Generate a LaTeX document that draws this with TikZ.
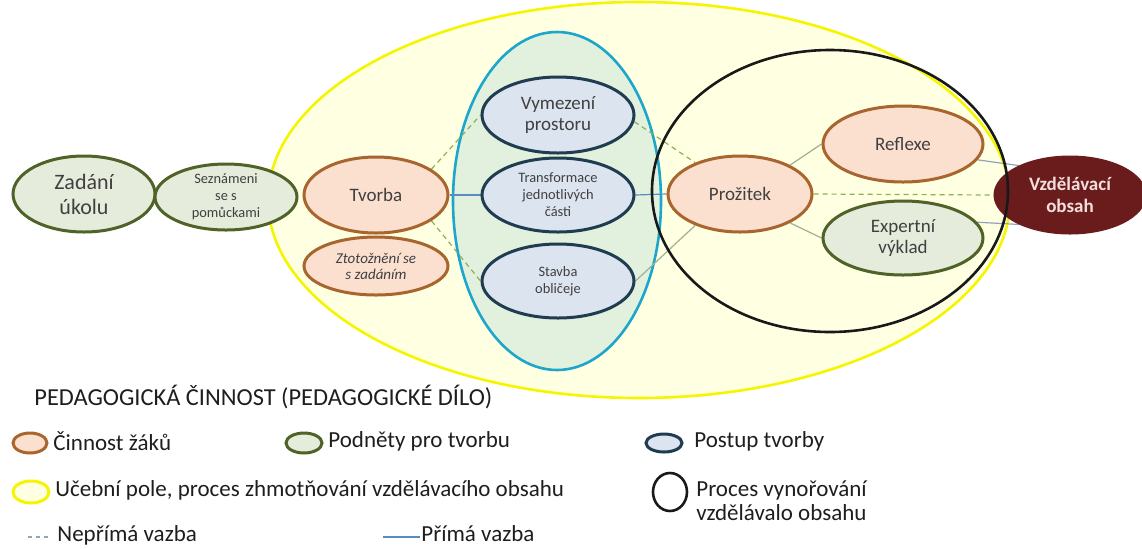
\documentclass[tikz,border=0pt]{standalone}
\usepackage{fontspec}
\setmainfont{Carlito}
\usetikzlibrary{shapes.geometric}
\pgfdeclarelayer{back}
\pgfdeclarelayer{conn}
\pgfsetlayers{back,conn,main}
\definecolor{txt}{HTML}{404040}
\definecolor{legtxt}{HTML}{1E1E1E}
\definecolor{peachF}{HTML}{FBE0D0}
\definecolor{peachD}{HTML}{A8652E}
\definecolor{greenF}{HTML}{E5ECDB}
\definecolor{greenD}{HTML}{4F6228}
\definecolor{blueF}{HTML}{DCE4F0}
\definecolor{blueD}{HTML}{203C50}
\definecolor{yelF}{HTML}{FFFFE2}
\definecolor{yelD}{HTML}{F5F500}
\definecolor{cyanD}{HTML}{1CA6CC}
\definecolor{cyanF}{HTML}{E2F1DD}
\definecolor{maroonF}{HTML}{6A1C1C}
\definecolor{maroonT}{HTML}{F4DEDC}
\definecolor{lnBlue}{HTML}{5B8BC4}
\definecolor{lnDash}{HTML}{8FB054}
\definecolor{lnGray}{HTML}{A3AE95}
\definecolor{lnBG}{HTML}{93A3B8}
\tikzset{
  ov/.style={ellipse, inner sep=0pt, line width=1.5pt, text=txt, align=center},
  act/.style={ov, draw=peachD, fill=peachF},
  stim/.style={ov, draw=greenD, fill=greenF},
  proc/.style={ov, draw=blueD, fill=blueF},
  goal/.style={ov, draw=maroonF, fill=maroonF, text=maroonT},
  fieldov/.style={ellipse, inner sep=0pt, draw=yelD, fill=yelF, line width=1.3pt},
  cyanov/.style={ellipse, inner sep=0pt, draw=cyanD, fill=cyanF, line width=1.3pt},
  emerg/.style={ellipse, inner sep=0pt, draw=black!90, line width=1.3pt},
  fA/.style={font=\fontsize{11}{12.5}\selectfont},
  fB/.style={font=\fontsize{9.5}{10.5}\selectfont},
  fC/.style={font=\fontsize{7.2}{8.5}\selectfont},
  leg/.style={anchor=west, inner sep=0pt, text=legtxt, font=\fontsize{11.5}{12.2}\selectfont, align=left},
  direct/.style={draw=lnBlue, line width=0.6pt},
  indirect/.style={draw=lnDash, line width=0.6pt, dash pattern=on 2.5pt off 2pt},
  plain/.style={draw=lnGray, line width=0.6pt},
  plainb/.style={draw=lnBG, line width=0.6pt},
}
\begin{document}
\begin{tikzpicture}[x=0.5pt, y=-0.5pt]
\useasboundingbox (0,0) rectangle (1142,548);
% big regions
\begin{pgfonlayer}{back}
\node[fieldov, minimum width=371pt, minimum height=198pt] (field) at (639,200) {};
\node[cyanov, minimum width=104pt, minimum height=169pt] (cyanreg) at (557,201) {};
\end{pgfonlayer}
% nodes
\node[stim, fA, minimum width=71pt, minimum height=38pt] (zad) at (84,194) {Zadání\\úkolu};
\node[stim, fC, minimum width=71pt, minimum height=33pt] (sez) at (226,197) {Seznámeni\\se s\\pomůckami};
\node[act, fB, minimum width=72pt, minimum height=38pt] (tv) at (376,195) {Tvorba};
\node[act, font=\fontsize{7.5}{8}\selectfont\itshape, minimum width=72pt, minimum height=29pt] (zt) at (376,266) {Ztotožnění se\\s zadáním};
\node[proc, fB, minimum width=76pt, minimum height=38pt] (vy) at (558,115) {Vymezení\\prostoru};
\node[proc, fC, minimum width=76pt, minimum height=37pt] (tr) at (558,195) {Transformace\\jednotlivých\\části};
\node[proc, fC, minimum width=76pt, minimum height=37pt] (st) at (558,281) {Stavba\\obličeje};
\node[act, fB, minimum width=72pt, minimum height=38pt] (pr) at (740,194) {Prožitek};
\node[act, fB, minimum width=80pt, minimum height=38pt] (re) at (903,144) {Reflexe};
\node[stim, fB, minimum width=80pt, minimum height=37pt] (ex) at (903,238) {Expertní\\výklad};
\node[goal, font=\fontsize{9.5}{11}\selectfont\bfseries, minimum width=75pt, minimum height=38pt] (vz) at (1070,195) {Vzdělávací\\obsah};
\node[emerg, minimum width=178pt, minimum height=141pt] (black) at (830,191) {};
% connectors
\begin{pgfonlayer}{conn}
\draw[direct] (tv.east) -- (tr.west);
\draw[indirect] (tv.25) -- (vy.west);
\draw[indirect] (tv.-25) -- (st.west);
\draw[direct] (tr.east) -- (pr.west);
\draw[indirect] (vy.-5) -- (pr.145);
\draw[plain] (st.east) -- (pr.-145);
\draw[plain] (pr.30) -- (re.west);
\draw[plain] (pr.-30) -- (ex.west);
\draw[indirect] (pr.east) -- (vz.west);
\draw[plainb] (re.-12) -- (vz.150);
\draw[plainb] (ex.12) -- (vz.-150);
\end{pgfonlayer}
% legend
\node[leg, font=\fontsize{12.2}{13}\selectfont] (title) at (34,397) {PEDAGOGICKÁ ČINNOST (PEDAGOGICKÉ DÍLO)};
\node[act, minimum width=17pt, minimum height=10pt] (kA) at (30,443) {};
\node[leg] (tA) at (53,441) {Činnost žáků};
\node[stim, minimum width=18pt, minimum height=10pt] (kB) at (304,443) {};
\node[leg] (tB) at (328,441) {Podněty pro tvorbu};
\node[proc, minimum width=18pt, minimum height=9pt] (kC) at (664,443) {};
\node[leg] (tC) at (694,441) {Postup tvorby};
\node[fieldov, line width=1.5pt, minimum width=18pt, minimum height=11pt] (kD) at (31,492) {};
\node[leg] (tD) at (55,490) {Učební pole, proces zhmotňování vzdělávacího obsahu};
\node[emerg, minimum width=17pt, minimum height=19pt] (kE) at (670,492) {};
\node[leg, anchor=north west] (tE) at (696,480) {Proces vynořování\\vzdělávalo obsahu};
\coordinate (dA) at (28,537);
\coordinate (dB) at (50,537);
\draw[draw=lnBG, line width=0.6pt, dash pattern=on 2pt off 2pt] (dA) -- (dB);
\node[leg, anchor=base west] (tF) at (57,541) {Nepřímá vazba};
\coordinate (sA) at (383,537);
\coordinate (sB) at (420,537);
\draw[direct] (sA) -- (sB);
\node[leg, anchor=base west] (tG) at (421,541) {Přímá vazba};
\end{tikzpicture}
\end{document}
